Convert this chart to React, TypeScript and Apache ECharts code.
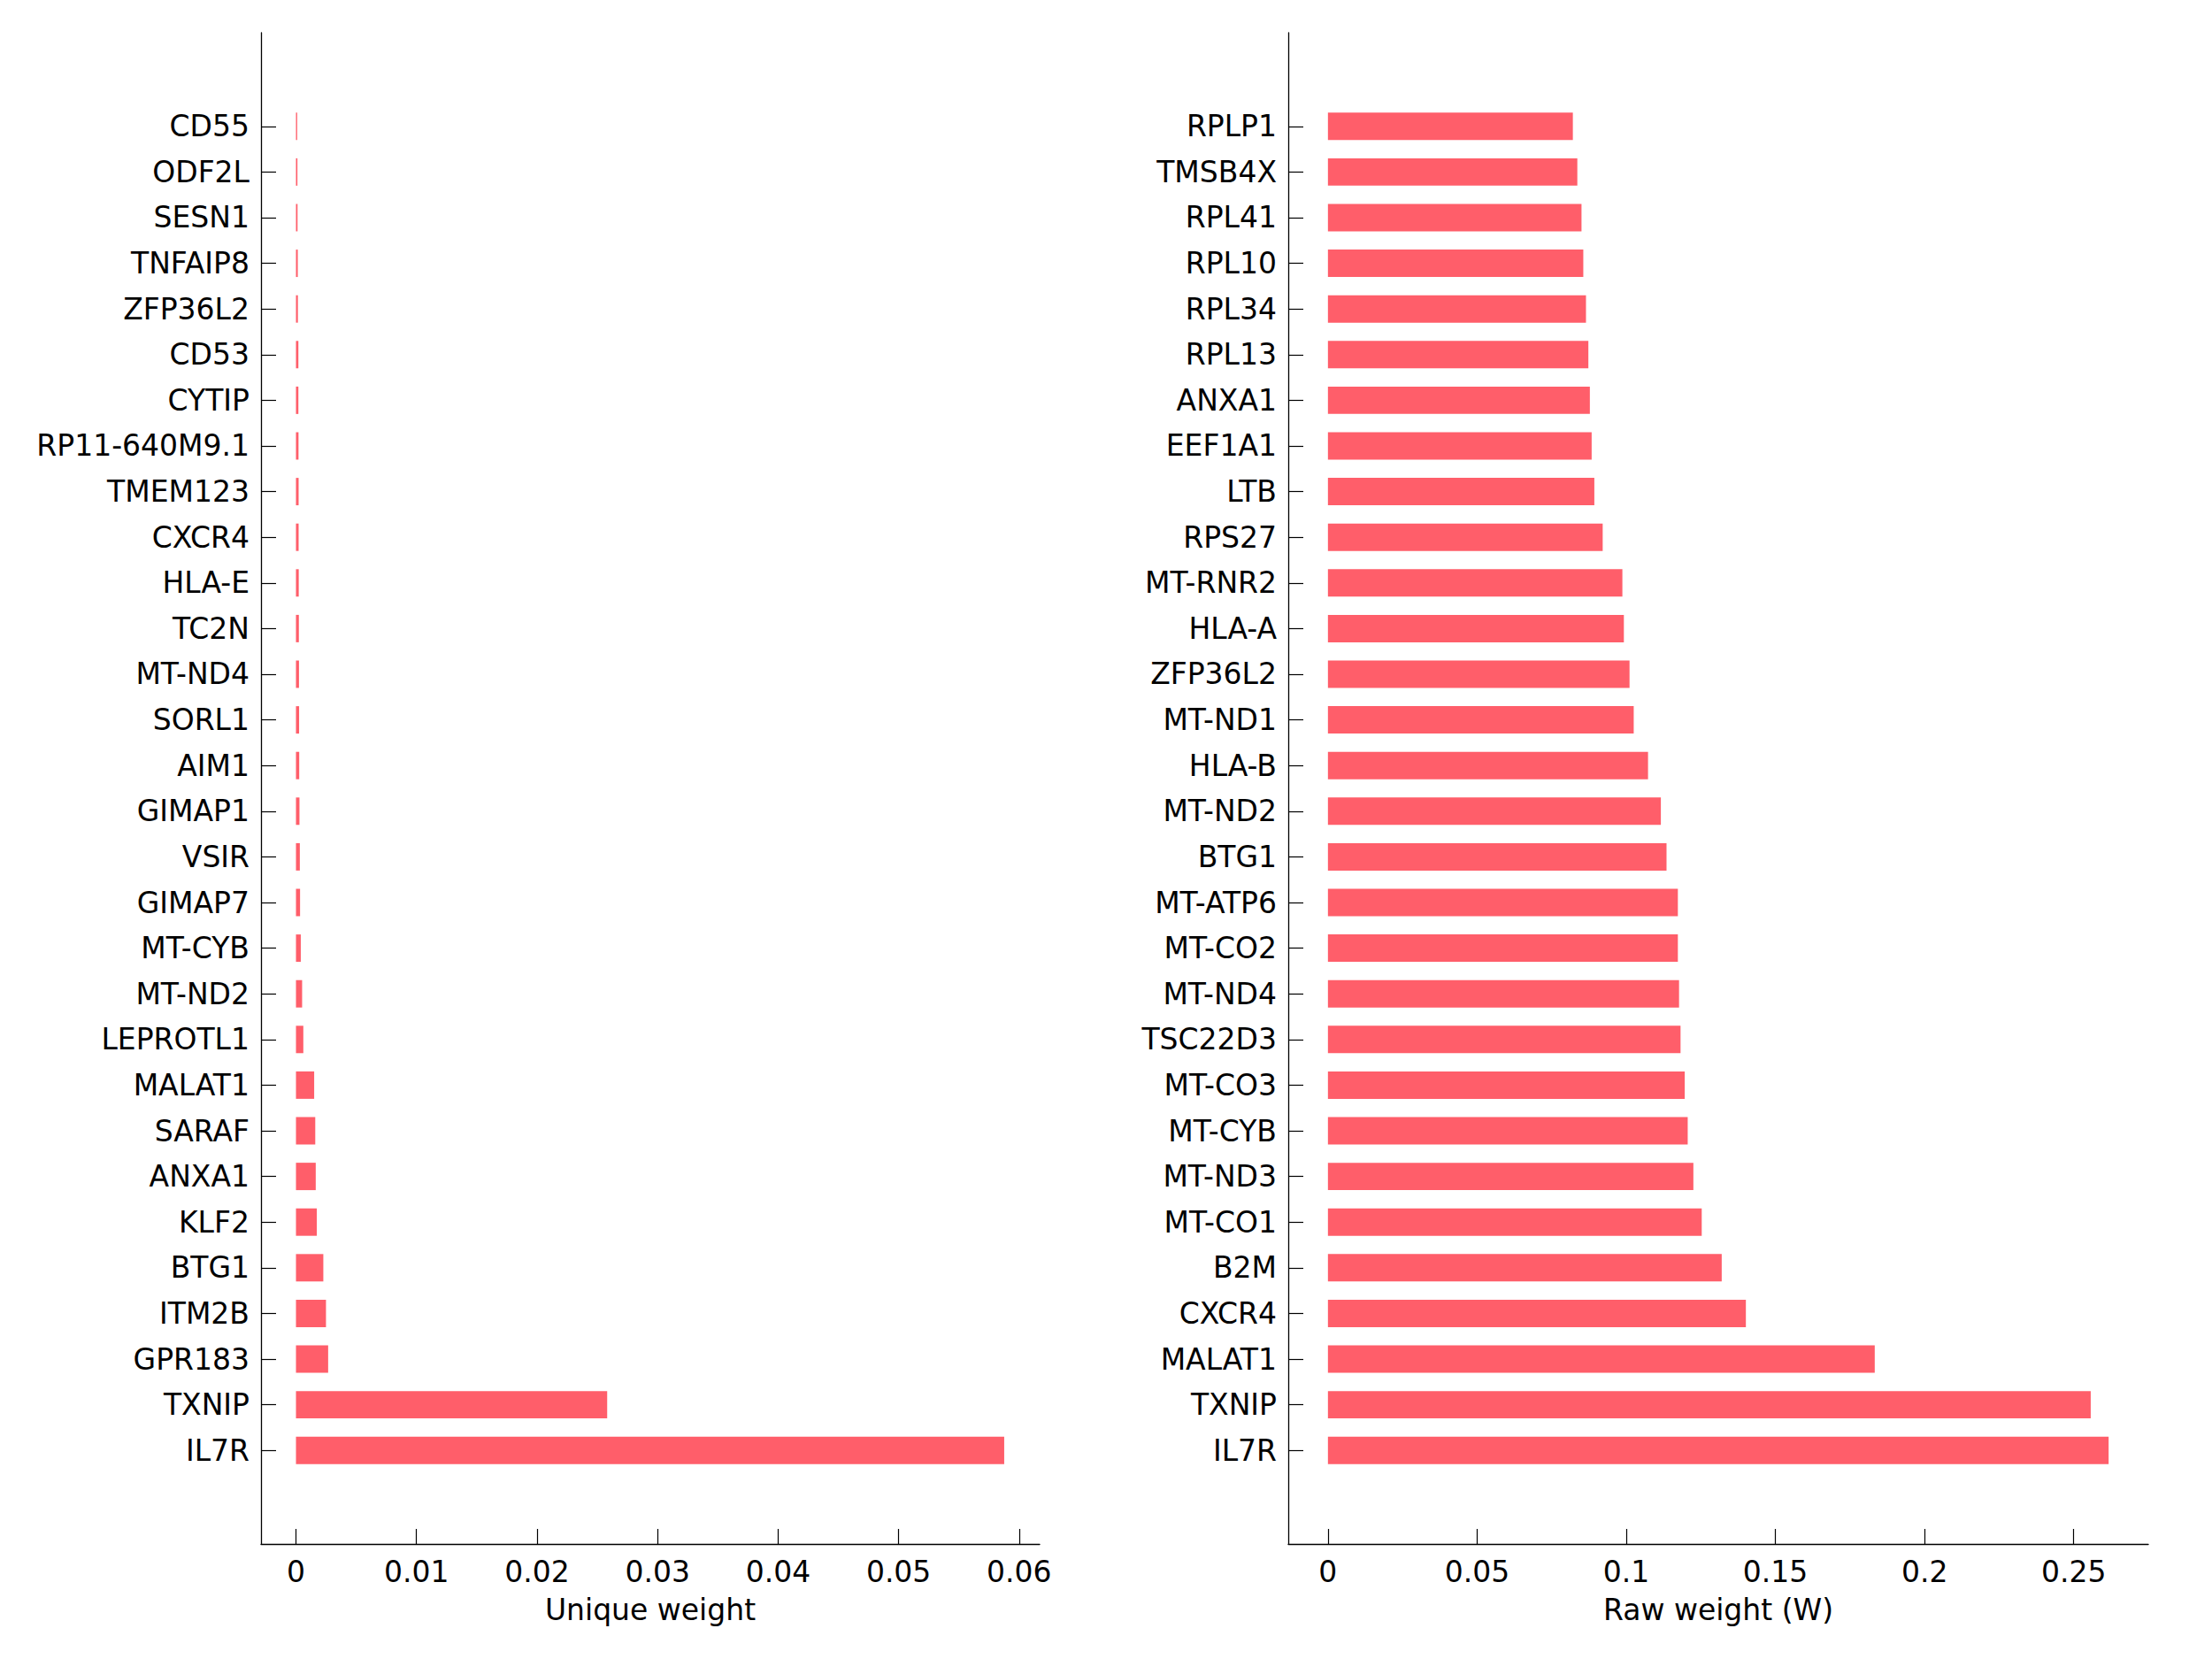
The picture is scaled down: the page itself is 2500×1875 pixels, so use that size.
import React, { useEffect, useRef } from "react";
import * as echarts from "echarts";

const uniqueGenes = ["CD55","ODF2L","SESN1","TNFAIP8","ZFP36L2","CD53","CYTIP","RP11-640M9.1","TMEM123","CXCR4","HLA-E","TC2N","MT-ND4","SORL1","AIM1","GIMAP1","VSIR","GIMAP7","MT-CYB","MT-ND2","LEPROTL1","MALAT1","SARAF","ANXA1","KLF2","BTG1","ITM2B","GPR183","TXNIP","IL7R"];
const uniqueWeights = [0.0001,0.00012,0.00013,0.00015,0.00016,0.0002,0.0002,0.00021,0.00022,0.00022,0.00023,0.00024,0.00025,0.00026,0.00027,0.00029,0.00032,0.00034,0.0004,0.00051,0.00061,0.00151,0.0016,0.00164,0.00173,0.00227,0.00249,0.00267,0.02582,0.05876];
const rawGenes = ["RPLP1","TMSB4X","RPL41","RPL10","RPL34","RPL13","ANXA1","EEF1A1","LTB","RPS27","MT-RNR2","HLA-A","ZFP36L2","MT-ND1","HLA-B","MT-ND2","BTG1","MT-ATP6","MT-CO2","MT-ND4","TSC22D3","MT-CO3","MT-CYB","MT-ND3","MT-CO1","B2M","CXCR4","MALAT1","TXNIP","IL7R"];
const rawWeights = [0.0821,0.0836,0.0850,0.0856,0.0865,0.0873,0.0878,0.0884,0.0893,0.0921,0.0987,0.0992,0.1011,0.1025,0.1073,0.1116,0.1135,0.1173,0.1173,0.1177,0.1182,0.1196,0.1206,0.1225,0.1253,0.1320,0.1401,0.1833,0.2557,0.2617];
const uniqueTicks = [0, 0.01, 0.02, 0.03, 0.04, 0.05, 0.06];
const rawTicks = [0, 0.05, 0.1, 0.15, 0.2, 0.25];
const uniqueTitle = "Unique weight";
const rawTitle = "Raw weight (W)";

const FONT = "DejaVu Sans";
const FS = 33;
const BAR = "#ff5e6a";

function positions(n: number) {
  const a: number[] = [];
  for (let k = 1; k <= n; k++) a.push(k);
  return a;
}

function makeX(idx: number, min: number, max: number, ticks: number[], name: string) {
  return {
    type: "value",
    gridIndex: idx,
    min,
    max,
    name,
    nameLocation: "middle",
    nameGap: 58,
    nameTextStyle: { fontFamily: FONT, fontSize: FS, color: "#000" },
    axisLine: { show: true, onZero: false, lineStyle: { color: "#000", width: 1.3 } },
    axisTick: { show: true, inside: true, length: 17, customValues: ticks, lineStyle: { color: "#000", width: 1.2 } },
    axisLabel: { show: true, margin: 15, customValues: ticks, fontFamily: FONT, fontSize: FS, color: "#000", formatter: (v: number) => String(v) },
    splitLine: { show: false },
  };
}

function makeY(idx: number, genes: string[]) {
  const n = genes.length;
  return {
    type: "value",
    gridIndex: idx,
    min: -1.05,
    max: n + 2.05,
    axisLine: { show: true, onZero: false, lineStyle: { color: "#000", width: 1.3 } },
    axisTick: { show: true, inside: true, length: 17, customValues: positions(n), lineStyle: { color: "#000", width: 1.2 } },
    axisLabel: {
      show: true,
      margin: 13,
      customValues: positions(n),
      fontFamily: FONT,
      fontSize: FS,
      color: "#000",
      formatter: (v: number) => genes[n - Math.round(v)] ?? "",
    },
    splitLine: { show: false },
  };
}

function makeSeries(idx: number, weights: number[]) {
  const n = weights.length;
  const data = weights.map((w, i) => [w, n - i]);
  return {
    type: "custom",
    xAxisIndex: idx,
    yAxisIndex: idx,
    data,
    encode: { x: 0, y: 1 },
    renderItem: (params: any, api: any) => {
      const v = api.value(0);
      const k = api.value(1);
      const p0 = api.coord([0, k]);
      const p1 = api.coord([v, k]);
      const h = api.size([0, 0.6])[1];
      return {
        type: "rect",
        shape: { x: p0[0], y: p0[1] - h / 2, width: Math.max(p1[0] - p0[0], 0.8), height: h },
        style: { fill: BAR },
      };
    },
  };
}

export default function App() {
  const ref = useRef<HTMLDivElement>(null);
  useEffect(() => {
    if (!ref.current) return;
    const chart = echarts.init(ref.current, undefined, { renderer: "svg" });
    chart.setOption({
      animation: false,
      backgroundColor: "#ffffff",
      grid: [
        { left: 295, right: 1325, top: 37, bottom: 130, containLabel: false },
        { left: 1456, right: 72, top: 37, bottom: 130, containLabel: false },
      ],
      xAxis: [
        makeX(0, -0.0029, 0.0617, uniqueTicks, uniqueTitle),
        makeX(1, -0.0133, 0.275, rawTicks, rawTitle),
      ],
      yAxis: [makeY(0, uniqueGenes), makeY(1, rawGenes)],
      series: [makeSeries(0, uniqueWeights), makeSeries(1, rawWeights)],
    });
    return () => chart.dispose();
  }, []);
  return (
    <div
      ref={ref}
      style={{ position: "fixed", left: 0, top: 0, width: 2500, height: 1875, background: "#fff" }}
    />
  );
}
